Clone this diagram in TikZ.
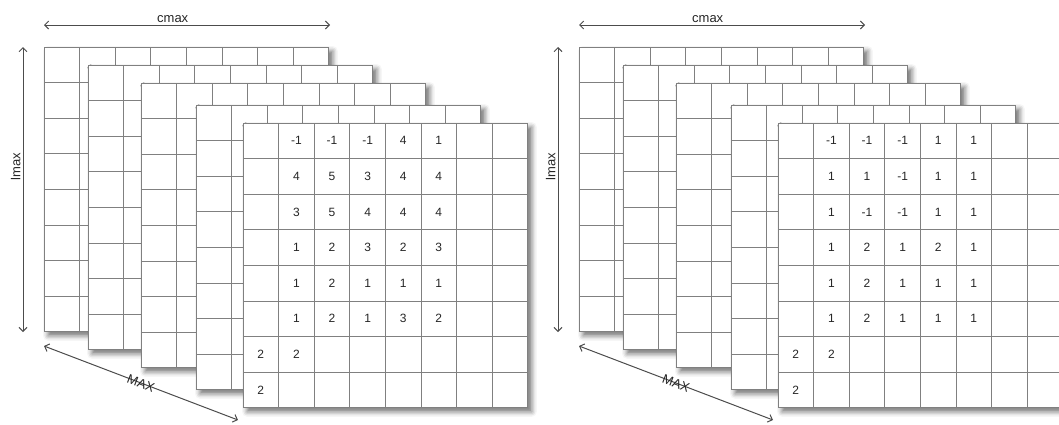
\documentclass[tikz,border=0pt]{standalone}
\usepackage{fontspec}
\setmainfont{Liberation Sans}
\usetikzlibrary{arrows.meta,shadows.blur}

\tikzset{
  cell line/.style={draw=black!50, line width=0.9pt},
  sheet/.style={fill=white, blur shadow={shadow xshift=4pt, shadow yshift=-4pt,
      shadow blur radius=5pt, shadow opacity=55}},
  num/.style={font=\fontsize{12}{14}\selectfont, text=black!85, inner sep=0pt},
  dim arrow/.style={draw=black!70, line width=1pt,
      {Straight Barb[length=4pt,width=8pt]}-{Straight Barb[length=4pt,width=8pt]}},
  dim label/.style={font=\fontsize{13}{15}\selectfont, text=black!85, inner sep=2pt},
}

\newcommand{\cs}{35.6}
\newcommand{\cubestack}[3]{%
  \begin{scope}[shift={(#2,47)}]
    \foreach \dx/\dy in {0/0,44/18,97/36,152/58,199/76} {
      \begin{scope}[shift={(\dx,\dy)}]
        \fill[sheet] (0,0) rectangle (8*\cs,8*\cs);
        \foreach \k in {0,...,8} {
          \draw[cell line] (\k*\cs,0) -- (\k*\cs,8*\cs);
          \draw[cell line] (0,\k*\cs) -- (8*\cs,\k*\cs);
        }
      \end{scope}
    }
    \begin{scope}[shift={(199,76)}]
      \foreach \rowvals [count=\r] in {#3}
        \foreach \v [count=\c] in \rowvals {
          \ifx\v\empty\else
            \node[num] (#1-\r-\c) at ({(\c-0.5)*\cs},{(\r-0.5)*\cs}) {\v};
          \fi
        }
    \end{scope}
    \coordinate (#1-cl) at (0,-22);
    \coordinate (#1-cr) at (286,-22);
    \coordinate (#1-lt) at (-21,0);
    \coordinate (#1-lb) at (-21,285);
    \coordinate (#1-ms) at (0,299);
    \coordinate (#1-me) at (194,373);
    \draw[dim arrow] (#1-cl) -- node[dim label, pos=0.45, above] {cmax} (#1-cr);
    \draw[dim arrow] (#1-lt) -- node[dim label, pos=0.42, rotate=90, anchor=south] {lmax} (#1-lb);
    \draw[dim arrow] (#1-ms) -- node[dim label, midway, sloped, inner sep=0pt] {MAX} (#1-me);
  \end{scope}}

\begin{document}
\begin{tikzpicture}[x=1pt, y=-1pt]
    \path[use as bounding box, clip] (0,0) rectangle (1059,424);

    \cubestack{left}{44}{{ ,-1,-1,-1,4,1},{ ,4,5,3,4,4},{ ,3,5,4,4,4},{ ,1,2,3,2,3},{ ,1,2,1,1,1},{ ,1,2,1,3,2},{2,2},{2}}

    \cubestack{right}{579}{{ ,-1,-1,-1,1,1},{ ,1,1,-1,1,1},{ ,1,-1,-1,1,1},{ ,1,2,1,2,1},{ ,1,2,1,1,1},{ ,1,2,1,1,1},{2,2},{2}}
\end{tikzpicture}
\end{document}
